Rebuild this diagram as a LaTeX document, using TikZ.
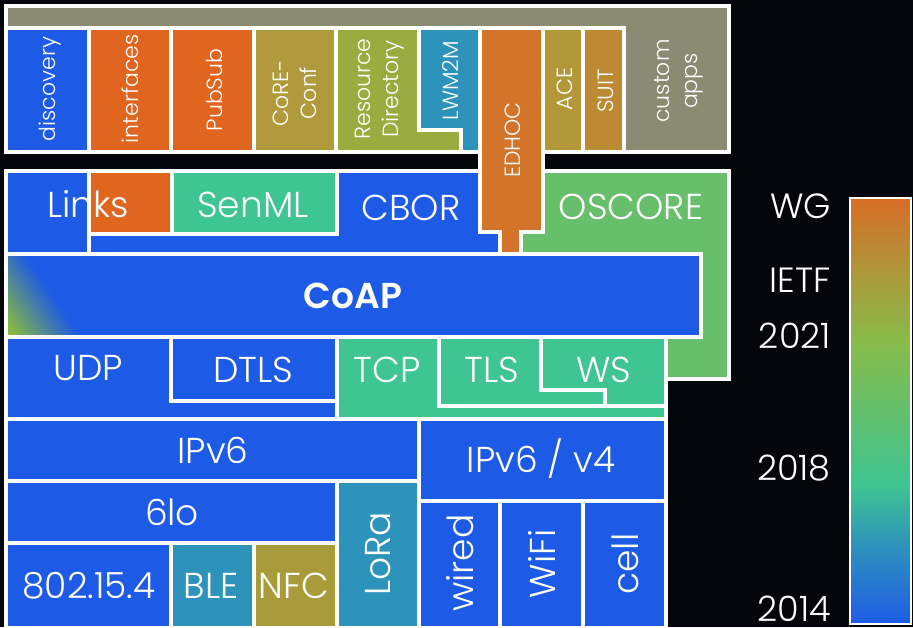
\documentclass[tikz,border=0pt]{standalone}
\usepackage{fontspec}
\IfFontExistsTF{Poppins Light}{\setmainfont{Poppins Light}[BoldFont={Poppins SemiBold}]}{\setmainfont{Poppins}}
\definecolor{bg}{HTML}{05050C}
\definecolor{cblue}{HTML}{1D5AE5}
\definecolor{corange}{HTML}{E0651F}
\definecolor{cedhoc}{HTML}{D2742A}
\definecolor{ccore}{HTML}{B09A3C}
\definecolor{crd}{HTML}{9AAB40}
\definecolor{cteal}{HTML}{2E93BB}
\definecolor{cace}{HTML}{B3983A}
\definecolor{csuit}{HTML}{BD8A33}
\definecolor{cnfc}{HTML}{A99A3A}
\definecolor{cgray}{HTML}{8B8A72}
\definecolor{cgreen}{HTML}{3FC591}
\definecolor{coscore}{HTML}{67BF6B}
\definecolor{cyg}{HTML}{8CBC3C}
\definecolor{kblue}{HTML}{1F5CE6}
\definecolor{kteal}{HTML}{2E92BB}
\definecolor{kgreen}{HTML}{3FC592}
\definecolor{kgr}{HTML}{6ABF67}
\definecolor{kyg}{HTML}{89BB4A}
\definecolor{kolive}{HTML}{A99B3C}
\definecolor{korange}{HTML}{D86D27}
\pgfdeclareverticalshading{cbar}{100bp}{color(0bp)=(kblue); color(25bp)=(kblue); color(34.2bp)=(kteal); color(41.25bp)=(kgreen); color(51.3bp)=(kgr); color(58.3bp)=(kyg); color(65.5bp)=(kolive); color(75bp)=(korange); color(100bp)=(korange)}
\tikzset{
  box/.style={draw=white, line width=3.5pt, line join=miter},
  lbl/.style={text=white, inner sep=0pt, font=\fontsize{36}{38}\selectfont, anchor=base},
  vlbl/.style={lbl, rotate=90},
  sml/.style={text=white, inner sep=0pt, font=\fontsize{22}{28}\selectfont, rotate=90, anchor=base},
  smlm/.style={text=white, inner sep=0pt, font=\fontsize{22}{28}\selectfont, rotate=90, align=center},
  leg/.style={text=white, inner sep=0pt, font=\fontsize{35}{37}\selectfont, anchor=base east},
}
\begin{document}
\begin{tikzpicture}[x=1pt,y=-1pt]
\useasboundingbox (0,0) rectangle (913,627);
\fill[bg] (0,0) rectangle (913,627);
% ---- top application area
\filldraw[box, fill=cgray] (6,6) rectangle (729,152);
\filldraw[box, fill=cblue] (6,28) rectangle (89,152);
\filldraw[box, fill=corange] (89,28) rectangle (171,152);
\filldraw[box, fill=corange] (171,28) rectangle (254,152);
\filldraw[box, fill=ccore] (254,28) rectangle (336,152);
\filldraw[box, fill=crd] (336,28) -- (419,28) -- (419,130) -- (461,130) -- (461,152) -- (336,152) -- cycle;
\filldraw[box, fill=cteal] (419,28) -- (480,28) -- (480,152) -- (461,152) -- (461,130) -- (419,130) -- cycle;
\filldraw[box, fill=cace] (543,28) rectangle (583,152);
\filldraw[box, fill=csuit] (583,28) rectangle (624,152);
% ---- middle
\filldraw[box, fill=cblue] (6,171) rectangle (89,254);
\filldraw[box, fill=corange] (89,171) rectangle (172,234);
\filldraw[box, fill=cgreen] (172,171) rectangle (337,234);
\filldraw[box, fill=cblue] (337,171) -- (480,171) -- (480,232) -- (500,232) -- (500,254) -- (89,254) -- (89,234) -- (337,234) -- cycle;
\filldraw[box, fill=coscore] (543,171) -- (729,171) -- (729,379) -- (666,379) -- (666,254) -- (521,254) -- (521,232) -- (543,232) -- cycle;
% CoAP with corner gradient
\fill[cblue] (6,254) rectangle (701,337);
\begin{scope}
  \clip (6,254) rectangle (701,337);
  \begin{scope}[shift={(8,336)}, rotate=34]
    \fill[cyg] (-40,-200) rectangle (4,200);
    \foreach \k in {0,...,13} {
      \pgfmathsetmacro{\pc}{100*(\k+0.5)/14}
      \fill[cblue!\pc!cyg] ({4+4*\k},-200) rectangle ({4+4*\k+4.4},200);
    }
  \end{scope}
\end{scope}
\draw[box] (6,254) rectangle (701,337);
% ---- transport
\filldraw[box, fill=cblue] (6,337) -- (171,337) -- (171,401) -- (337,401) -- (337,419) -- (6,419) -- cycle;
\filldraw[box, fill=cblue] (171,337) rectangle (337,401);
\filldraw[box, fill=cgreen] (337,337) -- (439,337) -- (439,406) -- (666,406) -- (666,419) -- (337,419) -- cycle;
\filldraw[box, fill=cgreen] (439,337) -- (541,337) -- (541,390) -- (605,390) -- (605,406) -- (439,406) -- cycle;
\filldraw[box, fill=cgreen] (541,337) -- (666,337) -- (666,406) -- (605,406) -- (605,390) -- (541,390) -- cycle;
% ---- network / link
\filldraw[box, fill=cblue] (6,419) rectangle (419,481);
\filldraw[box, fill=cblue] (419,419) rectangle (666,501);
\filldraw[box, fill=cblue] (6,481) rectangle (337,543);
\filldraw[box, fill=cteal] (337,481) rectangle (419,628);
\filldraw[box, fill=cblue] (6,543) rectangle (171,628);
\filldraw[box, fill=cteal] (171,543) rectangle (254,628);
\filldraw[box, fill=cnfc] (254,543) rectangle (337,628);
\filldraw[box, fill=cblue] (419,501) rectangle (500,628);
\filldraw[box, fill=cblue] (500,501) rectangle (583,628);
\filldraw[box, fill=cblue] (583,501) rectangle (666,628);
% ---- EDHOC on top
\filldraw[box, fill=cedhoc] (480,28) -- (543,28) -- (543,232) -- (521,232) -- (521,254) -- (500,254) -- (500,232) -- (480,232) -- cycle;
% ---- colour bar
\shade[shading=cbar] (850,198) rectangle (911,624);
\draw[white, line width=2.5pt] (850,198) rectangle (911,624);
% ---- labels top
\node[sml] (tdisc) at (55,89) {discovery};
\node[sml] (tintf) at (138,89) {interfaces};
\node[sml] (tpub) at (222,90) {PubSub};
\node[smlm] (tcore) at (295,93) {CoRE-\\Conf};
\node[smlm] (trd) at (380,89) {Resource\\Directory};
\node[sml] (tlwm) at (458,81) {LWM2M};
\node[sml] (tedhoc) at (520,140) {EDHOC};
\node[sml] (tace) at (572,89) {ACE};
\node[sml] (tsuit) at (613,91) {SUIT};
\node[smlm] (tcust) at (679,81) {custom\\apps};
% ---- labels middle
\node[lbl] (tlinks) at (88,217) {Links};
\node[lbl] (tsenml) at (253,217) {SenML};
\node[lbl] (tcbor) at (411,220) {CBOR};
\node[lbl] (toscore) at (631,219) {OSCORE};
\node[lbl, font=\fontsize{36}{38}\selectfont\bfseries] (tcoap) at (353,308) {CoAP};
\node[lbl] (tudp) at (88,380) {UDP};
\node[lbl] (tdtls) at (253,382) {DTLS};
\node[lbl] (ttcp) at (387,382) {TCP};
\node[lbl] (ttls) at (492,382) {TLS};
\node[lbl] (tws) at (604,382) {WS};
\node[lbl] (tipv6) at (213,463) {IPv6};
\node[lbl] (tipv64) at (541,472) {IPv6 / v4};
\node[lbl] (t6lo) at (172,525) {6lo};
\node[vlbl] (tlora) at (390,554) {LoRa};
\node[lbl] (t802) at (89,598) {802.15.4};
\node[lbl] (tble) at (211,598) {BLE};
\node[lbl] (tnfc) at (294,598) {NFC};
\node[vlbl] (twired) at (473,563) {wired};
\node[vlbl] (twifi) at (555,564) {WiFi};
\node[vlbl] (tcell) at (638,564) {cell};
% ---- legend labels
\node[leg] (lwg) at (831,218) {WG};
\node[leg] (lietf) at (831,292) {IETF};
\node[leg] (l2021) at (831,348) {2021};
\node[leg] (l2018) at (831,480) {2018};
\node[leg] (l2014) at (831,621) {2014};
\end{tikzpicture}
\end{document}
